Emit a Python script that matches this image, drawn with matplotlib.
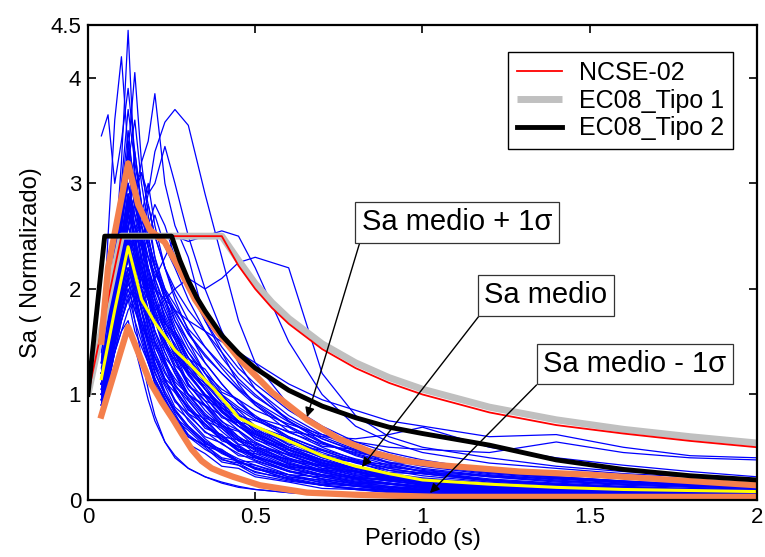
import matplotlib
matplotlib.use("Agg")
from matplotlib import pyplot as plt

plt.rcParams['font.family'] = ['Liberation Sans', 'DejaVu Sans']

# periodos comunes de los registros (s)
periodos = [0.04, 0.06, 0.08, 0.10, 0.12, 0.14, 0.16, 0.18, 0.20, 0.23, 0.26, 0.30, 0.35,
            0.40, 0.45, 0.50, 0.60, 0.70, 0.80, 0.90, 1.00, 1.20, 1.40, 1.60, 1.80, 2.00]

# espectros normalizados de los registros (leidos a ojo)
registros = [
    [1.1, 1.6, 2.3, 3.2, 4.45, 3.1, 2.6, 2.2, 1.9, 1.6, 1.4, 1.1, 0.9, 0.75, 0.6, 0.5, 0.38, 0.28, 0.22, 0.18, 0.15, 0.11, 0.08, 0.07, 0.06, 0.05],
    [1.3, 2.5, 3.6, 4.2, 3.3, 3.0, 2.4, 2.1, 1.8, 1.5, 1.25, 1.0, 0.8, 0.65, 0.52, 0.42, 0.3, 0.22, 0.17, 0.13, 0.11, 0.08, 0.06, 0.05, 0.04, 0.04],
    [1.2, 1.5, 2.0, 2.6, 3.3, 4.05, 3.2, 2.7, 2.3, 1.9, 1.6, 1.3, 1.05, 0.9, 0.75, 0.62, 0.45, 0.35, 0.27, 0.21, 0.17, 0.12, 0.1, 0.08, 0.07, 0.06],
    [1.1, 1.3, 1.6, 2.1, 2.6, 2.9, 3.2, 3.4, 3.85, 3.0, 2.6, 2.3, 1.7, 1.4, 1.1, 0.9, 0.65, 0.5, 0.38, 0.3, 0.25, 0.18, 0.14, 0.11, 0.09, 0.08],
    [1.0, 1.2, 1.5, 1.9, 2.4, 2.8, 2.6, 2.9, 3.3, 3.58, 3.7, 3.55, 2.9, 2.3, 1.7, 1.3, 0.9, 0.7, 0.55, 0.45, 0.38, 0.28, 0.22, 0.18, 0.15, 0.12],
    [3.45, 3.65, 3.0, 3.4, 3.9, 3.3, 2.8, 2.5, 2.2, 1.9, 1.7, 1.5, 1.2, 0.95, 0.8, 0.65, 0.48, 0.36, 0.28, 0.22, 0.18, 0.13, 0.1, 0.08, 0.07, 0.06],
    [1.2, 1.4, 1.8, 2.2, 2.8, 3.0, 3.1, 2.9, 3.0, 3.35, 3.0, 2.5, 2.0, 1.6, 1.3, 1.05, 0.75, 0.55, 0.42, 0.33, 0.27, 0.19, 0.15, 0.12, 0.1, 0.09],
    [1.0, 1.2, 1.5, 1.8, 2.1, 2.3, 2.2, 2.0, 2.1, 2.3, 2.5, 2.45, 2.5, 2.55, 2.5, 2.2, 1.5, 1.0, 0.7, 0.55, 0.45, 0.35, 0.3, 0.25, 0.22, 0.2],
    [1.1, 1.3, 1.5, 1.7, 1.9, 2.0, 2.1, 1.9, 1.8, 1.9, 2.0, 2.1, 2.0, 2.1, 2.25, 2.3, 2.2, 1.2, 0.8, 0.6, 0.5, 0.4, 0.32, 0.27, 0.24, 0.2],
    [1.0, 1.2, 1.4, 1.6, 1.8, 1.9, 2.0, 2.1, 2.0, 1.9, 1.8, 1.7, 1.6, 1.5, 1.4, 1.3, 1.1, 0.95, 0.85, 0.75, 0.7, 0.6, 0.62, 0.5, 0.42, 0.4],
    [1.2, 1.4, 1.7, 2.0, 2.3, 2.5, 2.4, 2.2, 2.0, 1.8, 1.6, 1.4, 1.2, 1.05, 0.95, 0.85, 0.72, 0.62, 0.55, 0.5, 0.48, 0.45, 0.55, 0.45, 0.4, 0.38],
    [1.1, 1.3, 1.6, 1.9, 2.2, 2.1, 2.0, 1.9, 1.7, 1.5, 1.35, 1.2, 1.0, 0.9, 0.8, 0.75, 0.65, 0.6, 0.58, 0.62, 0.69, 0.5, 0.4, 0.33, 0.27, 0.22],
    [1.2, 1.6, 2.1, 2.6, 3.0, 2.6, 2.3, 2.0, 1.8, 1.6, 1.4, 1.2, 1.0, 0.85, 0.7, 0.6, 0.45, 0.35, 0.27, 0.21, 0.17, 0.12, 0.1, 0.08, 0.07, 0.06],
    [1.0, 1.3, 1.8, 2.2, 2.6, 2.8, 2.5, 2.1, 1.9, 1.6, 1.35, 1.1, 0.9, 0.72, 0.6, 0.5, 0.36, 0.27, 0.2, 0.16, 0.13, 0.09, 0.07, 0.06, 0.05, 0.04],
    [1.3, 1.7, 2.3, 2.9, 3.5, 2.9, 2.4, 2.0, 1.7, 1.4, 1.2, 0.95, 0.75, 0.6, 0.48, 0.4, 0.28, 0.2, 0.15, 0.12, 0.1, 0.07, 0.05, 0.04, 0.03, 0.03],
    [1.1, 1.5, 2.0, 2.5, 2.9, 2.4, 2.1, 1.8, 1.55, 1.3, 1.1, 0.9, 0.72, 0.58, 0.47, 0.38, 0.27, 0.2, 0.15, 0.12, 0.1, 0.07, 0.06, 0.05, 0.04, 0.03],
    [0.9, 1.2, 1.5, 1.8, 2.0, 1.8, 1.6, 1.4, 1.2, 1.0, 0.85, 0.7, 0.55, 0.45, 0.36, 0.3, 0.2, 0.14, 0.1, 0.08, 0.06, 0.05, 0.04, 0.03, 0.03, 0.02],
    [0.85, 1.1, 1.4, 1.6, 1.7, 1.45, 1.2, 0.95, 0.75, 0.55, 0.4, 0.3, 0.22, 0.16, 0.12, 0.1, 0.07, 0.05, 0.04, 0.03, 0.03, 0.02, 0.02, 0.01, 0.01, 0.01],
    [1.0, 1.3, 1.7, 1.9, 2.1, 1.7, 1.35, 1.05, 0.8, 0.55, 0.42, 0.3, 0.22, 0.17, 0.13, 0.1, 0.07, 0.05, 0.04, 0.03, 0.03, 0.02, 0.02, 0.02, 0.01, 0.01],
    [1.1, 1.4, 1.9, 2.4, 2.7, 3.1, 2.7, 2.4, 2.1, 1.8, 1.55, 1.3, 1.05, 0.85, 0.7, 0.58, 0.42, 0.32, 0.25, 0.2, 0.16, 0.12, 0.09, 0.08, 0.07, 0.06],
    [1.2, 1.5, 2.0, 2.6, 3.2, 3.6, 3.0, 2.6, 2.3, 2.0, 1.7, 1.45, 1.2, 1.0, 0.82, 0.7, 0.52, 0.4, 0.3, 0.24, 0.2, 0.15, 0.12, 0.1, 0.08, 0.07],
    [1.0, 1.3, 1.6, 2.0, 2.3, 2.5, 2.6, 2.4, 2.2, 1.95, 1.75, 1.5, 1.3, 1.1, 0.92, 0.8, 0.6, 0.47, 0.37, 0.3, 0.25, 0.19, 0.15, 0.12, 0.1, 0.09],
    [1.4, 1.8, 2.4, 3.0, 3.7, 3.2, 2.8, 2.5, 2.2, 1.9, 1.65, 1.4, 1.15, 0.95, 0.8, 0.68, 0.5, 0.38, 0.3, 0.24, 0.2, 0.15, 0.12, 0.1, 0.08, 0.07],
    [1.1, 1.4, 1.7, 2.0, 2.3, 2.2, 2.3, 2.5, 2.7, 2.4, 2.2, 1.9, 1.6, 1.35, 1.15, 1.0, 0.75, 0.58, 0.46, 0.38, 0.32, 0.24, 0.19, 0.15, 0.13, 0.11],
    [0.95, 1.2, 1.5, 1.9, 2.2, 2.0, 1.8, 1.6, 1.4, 1.2, 1.05, 0.88, 0.72, 0.6, 0.5, 0.42, 0.31, 0.24, 0.19, 0.15, 0.12, 0.09, 0.07, 0.06, 0.05, 0.04],
    [1.2, 1.6, 2.2, 2.8, 3.3, 3.0, 2.6, 2.3, 2.1, 1.85, 1.6, 1.35, 1.1, 0.92, 0.78, 0.66, 0.5, 0.38, 0.3, 0.24, 0.19, 0.14, 0.11, 0.09, 0.08, 0.07],
    [1.0, 1.3, 1.7, 2.1, 2.5, 2.3, 2.1, 1.9, 1.75, 1.55, 1.4, 1.25, 1.1, 0.98, 0.86, 0.76, 0.6, 0.48, 0.39, 0.32, 0.27, 0.2, 0.16, 0.13, 0.11, 0.1],
    [1.3, 1.7, 2.2, 2.7, 3.0, 2.7, 2.5, 2.6, 2.8, 2.6, 2.3, 2.0, 1.7, 1.45, 1.25, 1.1, 0.85, 0.66, 0.52, 0.43, 0.36, 0.27, 0.21, 0.17, 0.14, 0.12],
    [1.1, 1.4, 1.8, 2.3, 2.8, 2.5, 2.2, 1.95, 1.7, 1.45, 1.25, 1.05, 0.85, 0.7, 0.58, 0.48, 0.35, 0.26, 0.2, 0.16, 0.13, 0.1, 0.08, 0.06, 0.05, 0.05],
    [0.9, 1.2, 1.6, 2.0, 2.4, 2.2, 1.9, 1.65, 1.4, 1.15, 0.95, 0.75, 0.58, 0.46, 0.37, 0.3, 0.2, 0.14, 0.11, 0.09, 0.07, 0.05, 0.04, 0.03, 0.03, 0.02],
    [1.2, 1.5, 1.9, 2.3, 2.6, 2.9, 3.1, 2.8, 2.5, 2.2, 1.95, 1.7, 1.45, 1.25, 1.07, 0.92, 0.7, 0.54, 0.43, 0.35, 0.29, 0.22, 0.17, 0.14, 0.12, 0.1],
    [1.0, 1.3, 1.7, 2.2, 2.7, 3.3, 2.8, 2.4, 2.05, 1.7, 1.45, 1.2, 0.98, 0.8, 0.66, 0.55, 0.4, 0.3, 0.23, 0.18, 0.15, 0.11, 0.09, 0.07, 0.06, 0.05],
    [1.1, 1.4, 1.8, 2.1, 2.4, 2.6, 2.4, 2.2, 2.0, 1.75, 1.55, 1.35, 1.15, 1.0, 0.88, 0.78, 0.64, 0.53, 0.45, 0.39, 0.34, 0.27, 0.22, 0.18, 0.15, 0.13],
    [1.15, 1.5, 2.0, 2.5, 2.9, 2.6, 2.3, 2.05, 1.85, 1.6, 1.4, 1.2, 1.0, 0.83, 0.7, 0.6, 0.44, 0.34, 0.26, 0.21, 0.17, 0.13, 0.1, 0.08, 0.07, 0.06],
    [0.95, 1.25, 1.65, 2.0, 2.2, 1.95, 1.7, 1.5, 1.3, 1.1, 0.95, 0.8, 0.65, 0.53, 0.44, 0.37, 0.27, 0.2, 0.16, 0.13, 0.1, 0.08, 0.06, 0.05, 0.04, 0.04],
    [1.05, 1.35, 1.75, 2.15, 2.45, 2.25, 2.0, 1.8, 1.6, 1.4, 1.2, 1.0, 0.82, 0.68, 0.56, 0.47, 0.34, 0.26, 0.2, 0.16, 0.13, 0.1, 0.08, 0.06, 0.05, 0.05],
    [1.2, 1.55, 2.0, 2.6, 3.1, 2.8, 2.45, 2.15, 1.9, 1.65, 1.45, 1.25, 1.05, 0.88, 0.75, 0.64, 0.48, 0.37, 0.29, 0.23, 0.19, 0.14, 0.11, 0.09, 0.08, 0.07],
    [1.3, 1.6, 1.9, 2.3, 2.7, 2.5, 2.7, 3.0, 2.6, 2.2, 1.9, 1.6, 1.3, 1.1, 0.92, 0.78, 0.58, 0.45, 0.35, 0.28, 0.23, 0.17, 0.13, 0.11, 0.09, 0.08],
    [1.0, 1.2, 1.5, 1.8, 2.1, 2.4, 2.6, 2.8, 2.5, 2.2, 2.0, 1.8, 1.6, 1.4, 1.2, 1.05, 0.8, 0.62, 0.5, 0.41, 0.35, 0.27, 0.22, 0.18, 0.15, 0.13],
    [1.1, 1.4, 1.7, 2.0, 2.3, 2.1, 1.9, 1.7, 1.5, 1.3, 1.15, 1.0, 0.9, 0.8, 0.7, 0.62, 0.5, 0.42, 0.36, 0.31, 0.28, 0.23, 0.2, 0.17, 0.15, 0.13],
    [0.9, 1.1, 1.4, 1.7, 1.9, 1.6, 1.45, 1.3, 1.15, 0.95, 0.8, 0.62, 0.5, 0.36, 0.33, 0.24, 0.18, 0.14, 0.1, 0.08, 0.065, 0.05, 0.04, 0.035, 0.03, 0.025],
    [1.0, 1.3, 1.6, 2.0, 2.3, 1.9, 1.6, 1.35, 1.1, 0.85, 0.72, 0.53, 0.44, 0.32, 0.3, 0.22, 0.17, 0.11, 0.1, 0.07, 0.06, 0.045, 0.035, 0.03, 0.025, 0.02],
    [1.1, 1.4, 1.8, 2.4, 2.9, 2.5, 2.0, 1.6, 1.3, 1.0, 0.82, 0.6, 0.52, 0.38, 0.35, 0.26, 0.21, 0.15, 0.13, 0.09, 0.08, 0.06, 0.05, 0.04, 0.035, 0.03],
    [1.2, 1.5, 1.9, 2.3, 2.5, 2.2, 1.8, 1.5, 1.25, 1.08, 0.88, 0.77, 0.6, 0.54, 0.42, 0.4, 0.27, 0.24, 0.17, 0.16, 0.12, 0.09, 0.07, 0.06, 0.05, 0.045],
    [0.95, 1.2, 1.5, 1.8, 2.1, 1.85, 1.55, 1.3, 1.1, 0.9, 0.78, 0.6, 0.52, 0.4, 0.37, 0.29, 0.24, 0.16, 0.14, 0.1, 0.09, 0.07, 0.055, 0.045, 0.04, 0.035],
    [1.05, 1.35, 1.8, 2.2, 2.6, 2.3, 2.0, 1.75, 1.5, 1.28, 1.02, 0.88, 0.68, 0.62, 0.48, 0.46, 0.32, 0.28, 0.21, 0.19, 0.14, 0.11, 0.09, 0.07, 0.06, 0.05],
    [1.1, 1.45, 1.9, 2.4, 2.8, 2.6, 2.25, 1.9, 1.6, 1.33, 1.08, 0.94, 0.75, 0.68, 0.53, 0.49, 0.34, 0.29, 0.21, 0.18, 0.14, 0.1, 0.08, 0.065, 0.055, 0.05],
    [0.9, 1.15, 1.45, 1.75, 2.0, 1.8, 1.65, 1.5, 1.35, 1.12, 1.02, 0.82, 0.72, 0.56, 0.51, 0.4, 0.33, 0.24, 0.21, 0.15, 0.13, 0.1, 0.08, 0.065, 0.055, 0.05],
    [1.0, 1.3, 1.7, 2.1, 2.5, 2.2, 1.9, 1.7, 1.5, 1.32, 1.12, 1.0, 0.8, 0.72, 0.58, 0.54, 0.39, 0.33, 0.24, 0.21, 0.17, 0.13, 0.1, 0.08, 0.07, 0.06],
    [1.15, 1.5, 2.0, 2.6, 3.0, 2.7, 2.3, 2.0, 1.75, 1.48, 1.32, 1.08, 0.94, 0.74, 0.66, 0.53, 0.43, 0.32, 0.27, 0.2, 0.18, 0.14, 0.11, 0.09, 0.08, 0.07],
    [0.85, 1.1, 1.4, 1.7, 1.95, 1.7, 1.5, 1.3, 1.12, 0.95, 0.76, 0.66, 0.51, 0.46, 0.35, 0.33, 0.22, 0.19, 0.13, 0.12, 0.09, 0.07, 0.06, 0.05, 0.04, 0.035],
    [1.0, 1.25, 1.6, 2.0, 2.35, 2.1, 1.85, 1.65, 1.45, 1.27, 1.08, 0.97, 0.78, 0.7, 0.56, 0.52, 0.37, 0.32, 0.23, 0.21, 0.16, 0.13, 0.11, 0.09, 0.08, 0.07],
    [1.2, 1.5, 1.95, 2.5, 2.9, 2.7, 2.5, 2.3, 2.05, 1.72, 1.53, 1.22, 1.05, 0.83, 0.74, 0.6, 0.48, 0.35, 0.3, 0.22, 0.2, 0.14, 0.11, 0.09, 0.08, 0.07],
    [1.1, 1.4, 1.75, 2.15, 2.5, 2.35, 2.15, 1.95, 1.75, 1.52, 1.28, 1.14, 0.94, 0.87, 0.74, 0.7, 0.53, 0.47, 0.36, 0.34, 0.27, 0.22, 0.18, 0.15, 0.13, 0.11],
    [0.95, 1.2, 1.55, 1.95, 2.3, 2.05, 1.8, 1.55, 1.35, 1.14, 0.93, 0.82, 0.64, 0.58, 0.46, 0.44, 0.31, 0.29, 0.21, 0.2, 0.15, 0.12, 0.1, 0.08, 0.07, 0.06],
    [1.25, 1.6, 2.1, 2.7, 3.3, 2.9, 2.5, 2.2, 1.95, 1.68, 1.52, 1.27, 1.13, 0.92, 0.85, 0.7, 0.59, 0.43, 0.38, 0.28, 0.26, 0.19, 0.15, 0.12, 0.1, 0.09],
    [1.05, 1.3, 1.65, 2.0, 2.3, 2.2, 2.1, 2.0, 1.85, 1.62, 1.48, 1.22, 1.08, 0.87, 0.8, 0.66, 0.55, 0.4, 0.36, 0.26, 0.25, 0.18, 0.14, 0.12, 0.1, 0.09],
    [0.9, 1.15, 1.5, 1.85, 2.15, 1.9, 1.6, 1.35, 1.15, 0.97, 0.78, 0.68, 0.53, 0.48, 0.37, 0.36, 0.24, 0.22, 0.16, 0.15, 0.11, 0.09, 0.07, 0.06, 0.05, 0.045],
    [1.1, 1.4, 1.85, 2.35, 2.75, 2.45, 2.15, 1.9, 1.7, 1.45, 1.33, 1.08, 0.98, 0.78, 0.73, 0.57, 0.47, 0.33, 0.3, 0.21, 0.2, 0.15, 0.12, 0.1, 0.09, 0.08],
    [1.0, 1.3, 1.7, 2.1, 2.45, 2.25, 2.0, 1.8, 1.6, 1.35, 1.23, 0.99, 0.89, 0.7, 0.65, 0.5, 0.43, 0.3, 0.28, 0.19, 0.19, 0.14, 0.11, 0.09, 0.08, 0.07],
    [1.15, 1.45, 1.85, 2.25, 2.6, 2.4, 2.2, 2.05, 1.9, 1.67, 1.58, 1.34, 1.24, 1.02, 0.95, 0.78, 0.69, 0.51, 0.48, 0.35, 0.35, 0.26, 0.21, 0.17, 0.15, 0.13],
    [0.95, 1.2, 1.5, 1.8, 2.05, 1.9, 1.7, 1.52, 1.36, 1.15, 1.06, 0.85, 0.77, 0.6, 0.57, 0.44, 0.39, 0.28, 0.27, 0.19, 0.19, 0.14, 0.11, 0.09, 0.08, 0.07],
    [1.1, 1.5, 2.1, 2.7, 3.4, 3.0, 2.7, 2.45, 2.25, 2.0, 1.85, 1.62, 1.45, 1.28, 1.12, 0.98, 0.77, 0.6, 0.48, 0.4, 0.34, 0.26, 0.21, 0.17, 0.14, 0.12],
    [1.0, 1.35, 1.8, 2.3, 2.7, 2.6, 2.45, 2.3, 2.15, 1.95, 1.78, 1.58, 1.38, 1.2, 1.05, 0.93, 0.74, 0.58, 0.47, 0.39, 0.33, 0.25, 0.2, 0.16, 0.14, 0.12],
    [0.9, 1.2, 1.6, 2.0, 2.3, 2.0, 1.7, 1.45, 1.22, 1.0, 0.84, 0.68, 0.54, 0.44, 0.37, 0.31, 0.22, 0.17, 0.13, 0.1, 0.08, 0.06, 0.05, 0.04, 0.035, 0.03],
    [1.0, 1.3, 1.7, 2.1, 2.4, 2.1, 1.78, 1.5, 1.27, 1.03, 0.86, 0.7, 0.56, 0.47, 0.39, 0.33, 0.24, 0.18, 0.14, 0.11, 0.09, 0.07, 0.055, 0.045, 0.04, 0.035],
    [0.95, 1.25, 1.65, 2.05, 2.35, 2.0, 1.65, 1.38, 1.15, 0.92, 0.76, 0.6, 0.48, 0.39, 0.33, 0.27, 0.19, 0.14, 0.11, 0.09, 0.07, 0.05, 0.04, 0.035, 0.03, 0.025],
    [1.2, 1.55, 2.05, 2.6, 3.1, 2.85, 2.6, 2.4, 2.2, 1.98, 1.8, 1.57, 1.36, 1.2, 1.04, 0.9, 0.7, 0.55, 0.44, 0.36, 0.3, 0.23, 0.18, 0.15, 0.13, 0.11],
    [1.05, 1.4, 1.85, 2.35, 2.7, 2.35, 2.0, 1.72, 1.48, 1.22, 1.04, 0.86, 0.7, 0.58, 0.48, 0.41, 0.3, 0.23, 0.18, 0.15, 0.12, 0.09, 0.07, 0.06, 0.05, 0.045],
    [1.15, 1.5, 1.95, 2.45, 2.85, 2.5, 2.2, 1.96, 1.76, 1.55, 1.38, 1.18, 0.99, 0.85, 0.73, 0.63, 0.48, 0.38, 0.3, 0.25, 0.21, 0.16, 0.13, 0.1, 0.09, 0.08],
]

# Sa medio y +/- 1 sigma
t_medio = [0.04, 0.08, 0.12, 0.16, 0.2, 0.26, 0.3, 0.38, 0.45, 0.5, 0.6, 0.7, 0.8, 0.9, 1.0, 1.2, 1.4, 1.6, 1.8, 2.0]
sa_medio = [1.15, 1.8, 2.4, 1.9, 1.68, 1.42, 1.3, 1.04, 0.78, 0.7, 0.56, 0.42, 0.32, 0.25, 0.19, 0.15, 0.12, 0.1, 0.09, 0.08]

t_mas = [0.04, 0.06, 0.12, 0.15, 0.185, 0.23, 0.275, 0.32, 0.38, 0.454, 0.55, 0.655, 0.75, 0.85, 0.95, 1.05, 1.29, 1.5, 1.75, 2.0]
sa_mas = [1.5, 2.2, 3.19, 2.8, 2.56, 2.44, 2.18, 1.9, 1.62, 1.33, 1.02, 0.76, 0.58, 0.45, 0.37, 0.33, 0.27, 0.24, 0.19, 0.14]

t_menos = [0.04, 0.12, 0.185, 0.22, 0.255, 0.28, 0.31, 0.34, 0.37, 0.4, 0.434, 0.514, 0.655, 0.8, 1.05, 1.5, 2.0]
sa_menos = [0.8, 1.64, 1.12, 0.93, 0.76, 0.63, 0.48, 0.37, 0.3, 0.26, 0.22, 0.14, 0.07, 0.05, 0.03, 0.03, 0.03]

# espectros de norma
t_ncse = [0, 0.1, 0.4, 0.45, 0.5, 0.55, 0.6, 0.7, 0.8, 0.9, 1.0, 1.2, 1.4, 1.6, 1.8, 2.0]
sa_ncse = [1.0, 2.5, 2.5, 2.22, 2.0, 1.82, 1.67, 1.43, 1.25, 1.11, 1.0, 0.83, 0.71, 0.63, 0.56, 0.5]
sa_ec_t1 = [1.0, 2.5, 2.5, 2.27, 2.05, 1.87, 1.72, 1.48, 1.3, 1.16, 1.05, 0.88, 0.76, 0.67, 0.6, 0.54]

t_ec_t2 = [0, 0.05, 0.25, 0.275, 0.3, 0.325, 0.35, 0.4, 0.45, 0.5, 0.6, 0.7, 0.8, 0.9, 1.0, 1.2, 1.4, 1.6, 1.8, 2.0]
sa_ec_t2 = [1.0, 2.5, 2.5, 2.27, 2.08, 1.92, 1.79, 1.56, 1.39, 1.25, 1.04, 0.89, 0.78, 0.69, 0.63, 0.52, 0.38, 0.29, 0.23, 0.19]

fig = plt.figure(figsize=(7.65, 5.57), dpi=100)
ax = fig.add_axes([0.115, 0.1023, 0.8745, 0.8527])

for sa in registros:
    ax.plot(periodos, sa, color="#0000ff", lw=0.9)

l1, = ax.plot(t_ncse, sa_ec_t1, color="#c0c0c0", lw=5, solid_capstyle="butt")
l0, = ax.plot(t_ncse, sa_ncse, color="#ff0000", lw=1.3)
ax.plot(t_mas, sa_mas, color="#f47f4c", lw=4.5)
ax.plot(t_menos, sa_menos, color="#f47f4c", lw=4.5)
ax.plot(t_medio, sa_medio, color="#ffff00", lw=2.2)
l2, = ax.plot(t_ec_t2, sa_ec_t2, color="black", lw=3.5)

ax.legend([l0, l1, l2], ["NCSE-02", "EC08_Tipo 1", "EC08_Tipo 2"],
          loc="upper right", bbox_to_anchor=(0.964, 0.943), borderaxespad=0,
          fancybox=False, framealpha=1, edgecolor="black", fontsize=18,
          handlelength=1.8, labelspacing=0.15, borderpad=0.35, handletextpad=0.7)

caja = dict(boxstyle="square,pad=0.22", fc="white", ec="#333333", lw=0.9)
flecha = dict(arrowstyle="-|>", color="black", lw=1, relpos=(0, 0),
              shrinkA=0, shrinkB=0, mutation_scale=14)
ax.annotate("Sa medio + 1σ", xy=(0.655, 0.786), xytext=(1.103, 2.633),
            ha="center", va="center", fontsize=21, bbox=caja, arrowprops=flecha)
ax.annotate("Sa medio", xy=(0.819, 0.313), xytext=(1.369, 1.941),
            ha="center", va="center", fontsize=21, bbox=caja, arrowprops=flecha)
ax.annotate("Sa medio - 1σ", xy=(1.022, 0.066), xytext=(1.635, 1.288),
            ha="center", va="center", fontsize=21, bbox=caja, arrowprops=flecha)

ax.set_xlim(0, 2)
ax.set_ylim(0, 4.5)
ax.set_xticks([0, 0.5, 1, 1.5, 2])
ax.set_xticklabels(["0", "0.5", "1", "1.5", "2"])
ax.set_yticks([0, 1, 2, 3, 4, 4.5])
ax.set_yticklabels(["0", "1", "2", "3", "4", "4.5"])
ax.tick_params(direction="in", length=6, width=1.2, labelsize=16, top=True, right=True, pad=5)
for s in ax.spines.values():
    s.set_linewidth(1.6)

ax.set_xlabel("Periodo (s)", fontsize=17, labelpad=0)
ax.set_ylabel("Sa ( Normalizado)", fontsize=17, labelpad=6)

fig.savefig("out.png", dpi=100)
